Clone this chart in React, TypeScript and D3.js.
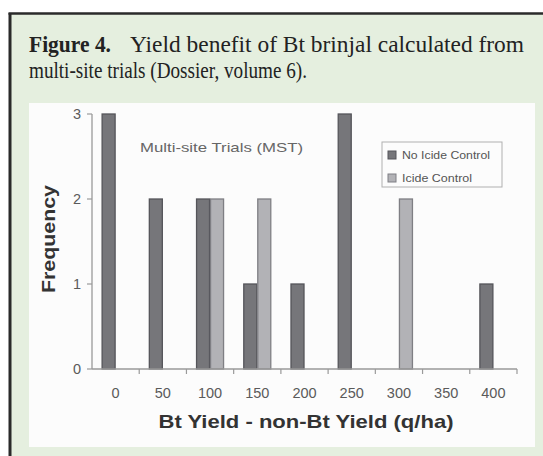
import React from "react";
import * as d3 from "d3";

const categories = ["0", "50", "100", "150", "200", "250", "300", "350", "400"];
const noIcide = [3, 2, 2, 1, 1, 3, 0, 0, 1];
const icide = [0, 0, 2, 2, 0, 0, 2, 0, 0];
const series = ["No Icide Control", "Icide Control"];
const yTicks = [0, 1, 2, 3];

const W = 543;
const H = 456;

export default function App() {
  const x0 = 92, x1 = 517, yB = 369, yT = 114;
  const x = d3.scaleBand<string>().domain(categories).range([x0, x1]);
  const y = d3.scaleLinear().domain([0, 3]).range([yB, yT]);
  const barW = 14;
  const fills = ["#76767a", "#b2b2b6"];
  const strokes = ["#55555a", "#7f7f84"];
  const data = [noIcide, icide];
  const legendW = [88, 70];

  return (
    <svg width={W} height={H} style={{ position: "absolute", left: 0, top: 0, overflow: "hidden" }}>
      <rect x={0} y={0} width={W} height={H} fill="#ffffff" />
      <rect x={10} y={14} width={W} height={H} fill="#e5efdf" />
      <line x1={8.5} y1={13.5} x2={W} y2={13.5} stroke="#2a2a2a" strokeWidth={2.5} />
      <line x1={10} y1={13} x2={10} y2={H} stroke="#2a2a2a" strokeWidth={3} />
      <text x={29} y={52} fontFamily="Liberation Serif, serif" fontWeight="bold" fontSize={23.5} fill="#222" textLength={82} lengthAdjust="spacingAndGlyphs">
        Figure 4.
      </text>
      <text x={130} y={52} fontFamily="Liberation Serif, serif" fontSize={23.5} fill="#222" textLength={394} lengthAdjust="spacingAndGlyphs">
        Yield benefit of Bt brinjal calculated from
      </text>
      <text x={29} y={78} fontFamily="Liberation Serif, serif" fontSize={23.5} fill="#222" textLength={278} lengthAdjust="spacingAndGlyphs">
        multi-site trials (Dossier, volume 6).
      </text>
      <rect x={29} y={103} width={506} height={344} fill="#fcfcfc" />

      {data.map((vals, s) =>
        vals.map((v, i) => {
          if (v <= 0) return null;
          const cx = (x(categories[i]) as number) + x.bandwidth() / 2;
          const bx = cx - barW + s * barW;
          return (
            <rect key={s + "-" + i} x={bx + 0.5} y={y(v)} width={barW - 1} height={yB - y(v)}
              fill={fills[s]} stroke={strokes[s]} strokeWidth={1.3} />
          );
        })
      )}

      <line x1={x0} y1={yT} x2={x0} y2={yB} stroke="#9a9a9a" strokeWidth={1.3} />
      <line x1={x0} y1={yB} x2={x1} y2={yB} stroke="#9a9a9a" strokeWidth={1.3} />
      {yTicks.map((t) => (
        <g key={t}>
          <line x1={x0 - 5} x2={x0} y1={y(t)} y2={y(t)} stroke="#9a9a9a" strokeWidth={1.2} />
          <text x={81} y={y(t) + 5} textAnchor="end" fontFamily="Liberation Sans, Arial, sans-serif" fontSize={14.5} fill="#5a5a5a">{t}</text>
        </g>
      ))}
      {categories.map((c) => (
        <line key={"t" + c} x1={(x(c) as number) + x.bandwidth()} x2={(x(c) as number) + x.bandwidth()} y1={yB} y2={yB + 5} stroke="#9a9a9a" strokeWidth={1.2} />
      ))}
      {categories.map((c) => (
        <text key={"l" + c} x={(x(c) as number) + x.bandwidth() / 2} y={398} textAnchor="middle" fontFamily="Liberation Sans, Arial, sans-serif" fontSize={14.5} fill="#5a5a5a">{c}</text>
      ))}
      <text x={306} y={428} textAnchor="middle" fontFamily="Liberation Sans, Arial, sans-serif" fontWeight="bold" fontSize={18.5} fill="#333" textLength={295} lengthAdjust="spacingAndGlyphs">
        Bt Yield - non-Bt Yield (q/ha)
      </text>
      <text transform="translate(55,239) rotate(-90)" textAnchor="middle" fontFamily="Liberation Sans, Arial, sans-serif" fontWeight="bold" fontSize={18.5} fill="#333" textLength={108} lengthAdjust="spacingAndGlyphs">
        Frequency
      </text>
      <text x={140} y={152} fontFamily="Liberation Sans, Arial, sans-serif" fontSize={13} fill="#666" textLength={163} lengthAdjust="spacingAndGlyphs">
        Multi-site Trials (MST)
      </text>

      <rect x={382} y={142} width={120} height={45} fill="#fcfcfc" stroke="#b0b0b0" strokeWidth={1} />
      {series.map((s, i) => (
        <g key={s}>
          <rect x={388} y={151 + i * 23} width={8} height={8} fill={fills[i]} stroke={strokes[i]} strokeWidth={1} />
          <text x={402} y={159 + i * 23} fontFamily="Liberation Sans, Arial, sans-serif" fontSize={11} fill="#555" textLength={legendW[i]} lengthAdjust="spacingAndGlyphs">{s}</text>
        </g>
      ))}
    </svg>
  );
}
